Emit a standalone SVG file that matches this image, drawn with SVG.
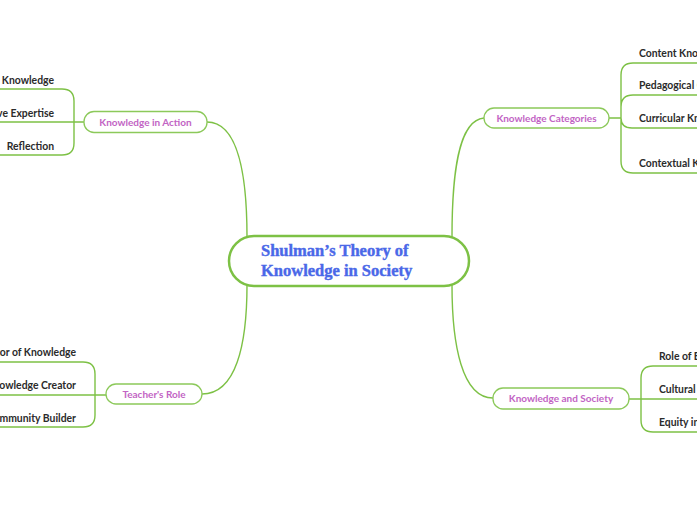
<svg xmlns="http://www.w3.org/2000/svg" width="697" height="520" viewBox="0 0 697 520">
<style>
.c{fill:none;stroke:#7dc145;stroke-width:1.4}
.n{fill:#fff;stroke:#8cc95a;stroke-width:1.3}
.nt{font-family:Lato,"Open Sans",sans-serif;font-weight:700;font-size:10px;fill:#c264c4;text-anchor:middle}
.t{font-family:Lato,"Open Sans",sans-serif;font-weight:700;font-size:10.4px;fill:#2b2b2b}
.l{text-anchor:end}
.title{font-family:"Liberation Serif",serif;font-weight:700;font-size:16.5px;fill:#4a68e8;stroke:#4a68e8;stroke-width:0.4}
</style>
<rect width="697" height="520" fill="#fff"/>
<g id="connectors">
<path class="c" d="M247,237 C247,175 238,122 207,122"/>
<path class="c" d="M452,237 C452,175 458,120 484,118"/>
<path class="c" d="M247,285 C247,345 236,394 202,394"/>
<path class="c" d="M452,285 C452,345 462,398 493,398"/>
<path class="c" d="M84,122 H-50 M74,122 V101 Q74,89 62,89 H-50 M74,122 V143 Q74,155 62,155 H-50"/>
<path class="c" d="M106,395 H-50 M95,395 V374 Q95,362 83,362 H-50 M95,395 V415 Q95,427 83,427 H-50"/>
<path class="c" d="M609,118 H621 M621,118 V75 Q621,63 633,63 H710 M621,118 V107 Q621,95 633,95 H710 M621,118 Q621,128 632,128 H710 M621,118 V161 Q621,173 633,173 H710"/>
<path class="c" d="M629,399 H710 M641,399 V378 Q641,366 653,366 H710 M641,399 V420 Q641,432 653,432 H710"/>
</g>
<g id="central">
<rect x="229" y="236" width="240" height="50" rx="25" fill="#fff" stroke="#7dc145" stroke-width="2.5"/>
<text class="title" x="261" y="256">Shulman’s Theory of</text>
<text class="title" x="261" y="276">Knowledge in Society</text>
</g>
<g id="knowledge-in-action">
<rect class="n" x="84" y="111.5" width="123" height="21" rx="10"/>
<text class="nt" x="145.5" y="125.5">Knowledge in Action</text>
</g>
<g id="kia-children">
<text class="t l" x="54" y="84">Practical Knowledge</text>
<text class="t l" x="54" y="117">Adaptive Expertise</text>
<text class="t l" x="54" y="150">Reflection</text>
</g>
<g id="knowledge-categories">
<rect class="n" x="484" y="108" width="125" height="20" rx="10"/>
<text class="nt" x="546.5" y="121.5">Knowledge Categories</text>
</g>
<g id="kc-children">
<text class="t" x="639" y="57">Content Knowledge</text>
<text class="t" x="639" y="89">Pedagogical Content Knowledge</text>
<text class="t" x="639" y="122">Curricular Knowledge</text>
<text class="t" x="639" y="167">Contextual Knowledge</text>
</g>
<g id="teachers-role">
<rect class="n" x="106" y="384" width="96" height="20" rx="10"/>
<text class="nt" x="154" y="397.5">Teacher's Role</text>
</g>
<g id="tr-children">
<text class="t l" x="76" y="356">Facilitator of Knowledge</text>
<text class="t l" x="76" y="389">Knowledge Creator</text>
<text class="t l" x="76" y="422">Community Builder</text>
</g>
<g id="knowledge-and-society">
<rect class="n" x="493" y="388" width="136" height="21" rx="10"/>
<text class="nt" x="561" y="402">Knowledge and Society</text>
</g>
<g id="ks-children">
<text class="t" x="659" y="360">Role of Education</text>
<text class="t" x="659" y="393">Cultural Context</text>
<text class="t" x="659" y="426">Equity in Education</text>
</g>
</svg>
